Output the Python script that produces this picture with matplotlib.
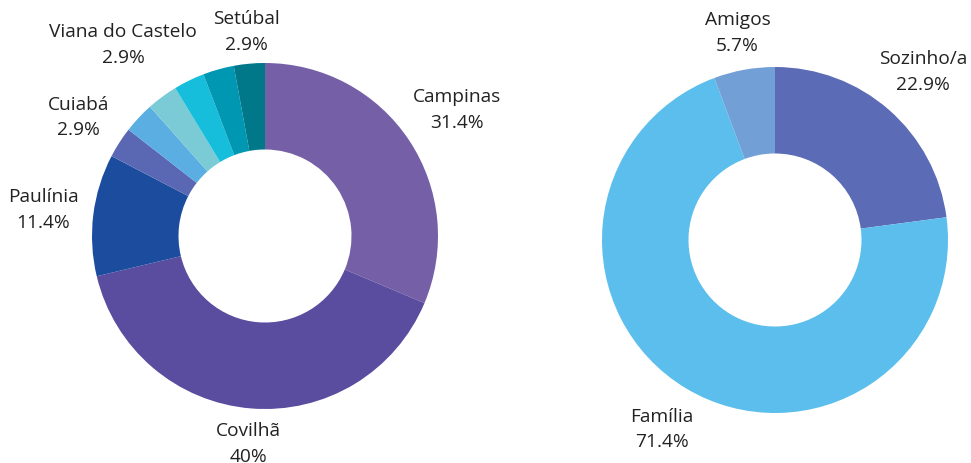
import numpy as np
import matplotlib.pyplot as plt

plt.rcParams['font.family'] = ['Open Sans', 'DejaVu Sans']

# left donut: city
city_names = ["Campinas", "Covilhã", "Paulínia", "Cuiabá", "", "Viana do Castelo", "", "", "Setúbal"]
city_pct = [31.4, 40, 11.4, 2.9, 2.9, 2.9, 2.9, 2.9, 2.9]
city_colors = ["#7560a8", "#5a4c9e", "#1b4c9e", "#5a68b4", "#5aaee2",
               "#7acbd6", "#16bedc", "#0097b2", "#00788a"]
city_lab_r = [1.33, 1.2, 1.29, 1.28, 1.3, 1.38, 1.3, 1.3, 1.19]

# right donut: company
comp_names = ["Sozinho/a", "Família", "Amigos"]
comp_pct = [22.9, 71.4, 5.7]
comp_colors = ["#5b6bb5", "#5bbeec", "#72a0d6"]
comp_lab_r = [1.3, 1.27, 1.22]

W, H = 971, 464
fig = plt.figure(figsize=(W / 100, H / 100), dpi=100)


def donut(cx, cy, R, names, pct, colors, lab_r):
    ax = fig.add_axes([(cx - R) / W, (H - cy - R) / H, 2 * R / W, 2 * R / H])
    wedges, _ = ax.pie(pct, colors=colors, startangle=90, counterclock=False,
                       radius=1, wedgeprops=dict(width=0.5, edgecolor='none'))
    for w, name, p, r in zip(wedges, names, pct, lab_r):
        if not name:
            continue
        a = np.deg2rad((w.theta1 + w.theta2) / 2)
        ax.text(r * np.cos(a), r * np.sin(a), f"{name}\n{p:g}%", ha='center', va='center',
                fontsize=13.8, color='#222222', linespacing=1.55, clip_on=False)
    ax.set_xlim(-1, 1)
    ax.set_ylim(-1, 1)
    ax.axis('off')
    return ax


donut(265, 237, 173, city_names, city_pct, city_colors, city_lab_r)
donut(775, 241, 173, comp_names, comp_pct, comp_colors, comp_lab_r)

fig.savefig("out.png", dpi=100, facecolor='white')
